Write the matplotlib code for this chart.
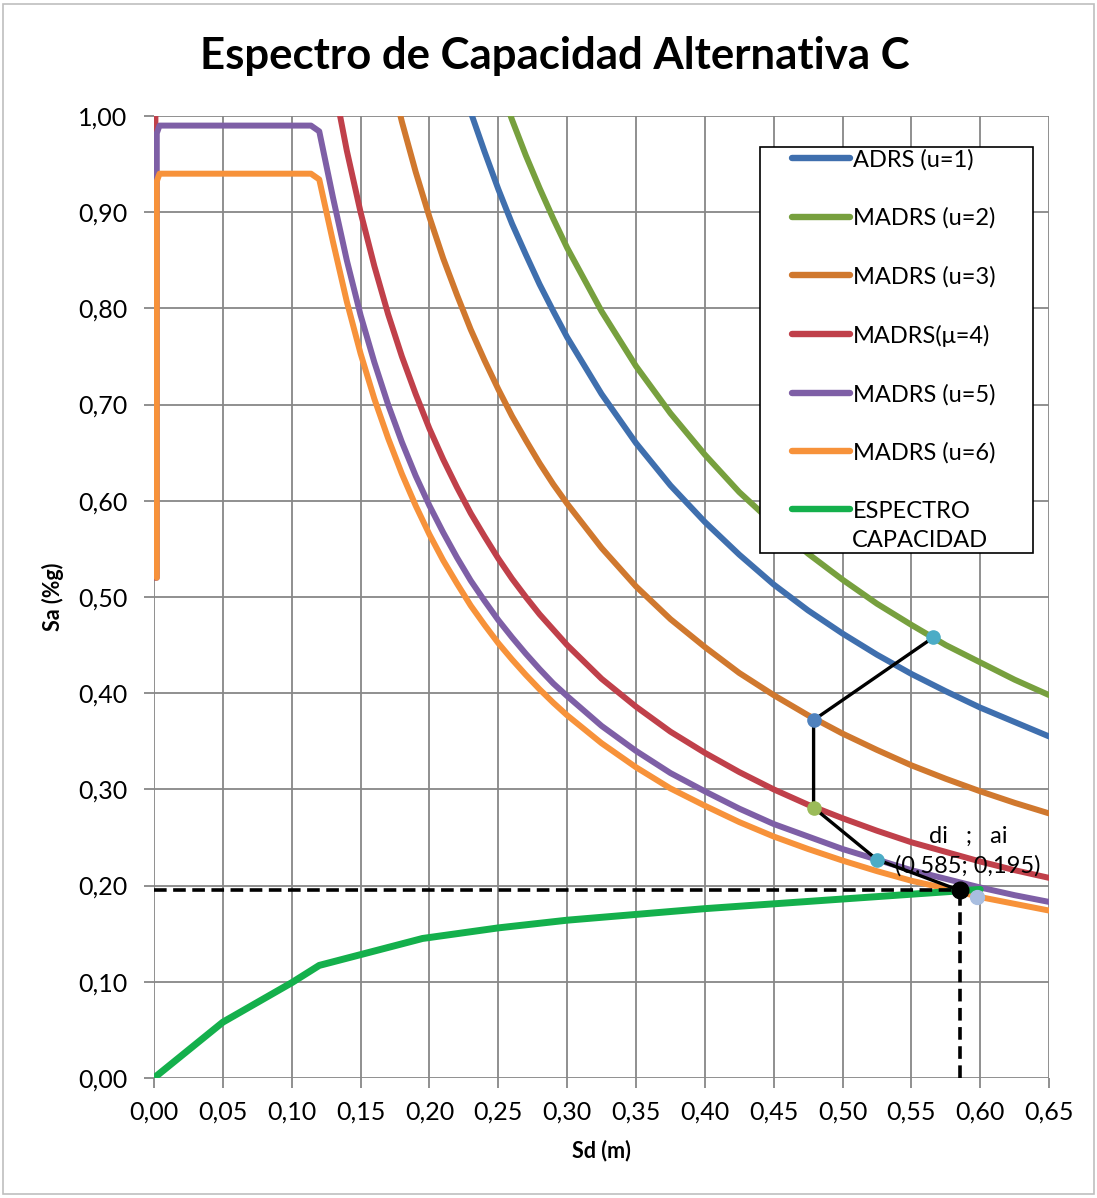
"""
Espectro de capacidad - alternativa C
"""

import matplotlib
matplotlib.use('Agg')
import matplotlib.pyplot as plt
from matplotlib.patches import Rectangle
from matplotlib.ticker import FuncFormatter, MultipleLocator

plt.rcParams['font.family'] = ['Lato', 'DejaVu Sans']

# curvas de demanda (Sd en m, Sa en %g)
sd_u1 = [0.22, 0.23, 0.24, 0.25, 0.26, 0.27, 0.28, 0.29, 0.30, 0.325, 0.35, 0.375, 0.40,
         0.425, 0.45, 0.475, 0.50, 0.525, 0.55, 0.575, 0.60, 0.625, 0.65]
sa_u1 = [1.050, 1.004, 0.963, 0.924, 0.888, 0.856, 0.825, 0.797, 0.770, 0.711, 0.660, 0.616, 0.578,
         0.544, 0.513, 0.486, 0.462, 0.440, 0.420, 0.402, 0.385, 0.370, 0.355]

sd_u2 = [0.25, 0.26, 0.27, 0.28, 0.29, 0.30, 0.325, 0.35, 0.375, 0.40,
         0.425, 0.45, 0.475, 0.50, 0.525, 0.55, 0.575, 0.60, 0.625, 0.65]
sa_u2 = [1.036, 0.996, 0.959, 0.925, 0.893, 0.863, 0.797, 0.740, 0.691, 0.648,
         0.609, 0.576, 0.545, 0.518, 0.493, 0.471, 0.450, 0.432, 0.414, 0.398]

sd_u3 = [0.17, 0.18, 0.19, 0.20, 0.21, 0.22, 0.23, 0.24, 0.25, 0.26, 0.27, 0.28, 0.29, 0.30,
         0.325, 0.35, 0.375, 0.40, 0.425, 0.45, 0.475, 0.50, 0.525, 0.55, 0.575, 0.60, 0.625, 0.65]
sa_u3 = [1.053, 0.994, 0.942, 0.895, 0.852, 0.814, 0.778, 0.746, 0.716, 0.688, 0.663, 0.639, 0.617, 0.597,
         0.551, 0.511, 0.477, 0.448, 0.421, 0.398, 0.377, 0.358, 0.341, 0.325, 0.311, 0.298, 0.286, 0.275]

sd_u4 = [0.001, 0.001, 0.12, 0.13, 0.14, 0.15, 0.16, 0.17, 0.18, 0.19, 0.20, 0.21, 0.22, 0.23, 0.24,
         0.25, 0.26, 0.27, 0.28, 0.29, 0.30, 0.325, 0.35, 0.375, 0.40, 0.425, 0.45, 0.475, 0.50,
         0.525, 0.55, 0.575, 0.60, 0.625, 0.65]
sa_u4 = [0.52, 1.125, 1.125, 1.038, 0.964, 0.900, 0.844, 0.794, 0.750, 0.711, 0.675, 0.643, 0.614, 0.587,
         0.563, 0.540, 0.519, 0.500, 0.482, 0.466, 0.450, 0.415, 0.386, 0.360, 0.338, 0.318, 0.300, 0.284,
         0.270, 0.257, 0.245, 0.235, 0.225, 0.216, 0.208]

sd_u5 = [0.002, 0.002, 0.004, 0.114, 0.12, 0.13, 0.14, 0.15, 0.16, 0.17, 0.18, 0.19, 0.20, 0.21, 0.22,
         0.23, 0.24, 0.25, 0.26, 0.27, 0.28, 0.29, 0.30, 0.325, 0.35, 0.375, 0.40, 0.425, 0.45, 0.475,
         0.50, 0.525, 0.55, 0.575, 0.60, 0.625, 0.65]
sa_u5 = [0.52, 0.982, 0.99, 0.99, 0.984, 0.915, 0.850, 0.793, 0.744, 0.700, 0.661, 0.626, 0.595, 0.567,
         0.541, 0.517, 0.496, 0.476, 0.458, 0.441, 0.425, 0.410, 0.397, 0.366, 0.340, 0.317, 0.298, 0.280,
         0.264, 0.251, 0.238, 0.227, 0.216, 0.207, 0.198, 0.190, 0.183]

sd_u6 = [0.002, 0.002, 0.004, 0.114, 0.12, 0.13, 0.14, 0.15, 0.16, 0.17, 0.18, 0.19, 0.20, 0.21, 0.22,
         0.23, 0.24, 0.25, 0.26, 0.27, 0.28, 0.29, 0.30, 0.325, 0.35, 0.375, 0.40, 0.425, 0.45, 0.475,
         0.50, 0.525, 0.55, 0.575, 0.60, 0.625, 0.65]
sa_u6 = [0.52, 0.932, 0.94, 0.94, 0.934, 0.869, 0.807, 0.753, 0.706, 0.665, 0.628, 0.595, 0.565, 0.538,
         0.514, 0.491, 0.471, 0.452, 0.435, 0.419, 0.404, 0.390, 0.377, 0.348, 0.323, 0.301, 0.283, 0.266,
         0.251, 0.238, 0.226, 0.215, 0.205, 0.197, 0.188, 0.181, 0.174]

# espectro de capacidad
sd_cap = [0.0, 0.05, 0.10, 0.12, 0.195, 0.25, 0.30, 0.35, 0.40, 0.45, 0.50, 0.55, 0.60]
sa_cap = [0.0, 0.058, 0.099, 0.117, 0.145, 0.156, 0.164, 0.170, 0.176, 0.181, 0.186, 0.191, 0.196]

# iteraciones
sd_iter = [0.566, 0.479, 0.479, 0.525, 0.585]
sa_iter = [0.458, 0.372, 0.281, 0.227, 0.195]
iter_colors = ['#4BACC6', '#4F81BD', '#9BBB59', '#4BACC6', 'black']

# punto de desempeño
sd_pd = 0.585
sa_pd = 0.195
sd_extra = 0.598
sa_extra = 0.188

fig = plt.figure(figsize=(10.97, 11.98), dpi=100)
fig.patches.append(Rectangle((0.003, 0.003), 0.994, 0.994, transform=fig.transFigure,
                             fill=False, edgecolor='#BFBFBF', linewidth=1.2))
ax = fig.add_axes([0.1404, 0.1002, 0.8159, 0.803])

lw = 4.3
ax.plot(sd_u1, sa_u1, color='#3F6FAE', lw=lw, label='ADRS (u=1)', solid_capstyle='round')
ax.plot(sd_u2, sa_u2, color='#77A03E', lw=lw, label='MADRS (u=2)', solid_capstyle='round')
ax.plot(sd_u3, sa_u3, color='#D0782E', lw=lw, label='MADRS (u=3)', solid_capstyle='round')
ax.plot(sd_u4, sa_u4, color='#C0404A', lw=lw, label='MADRS(\u03bc=4)', solid_capstyle='round')
ax.plot(sd_u5, sa_u5, color='#7E5FA6', lw=lw, label='MADRS (u=5)', solid_capstyle='round')
ax.plot(sd_u6, sa_u6, color='#F7923A', lw=lw, label='MADRS (u=6)', solid_capstyle='round')
ax.plot(sd_cap, sa_cap, color='#14B04C', lw=5.0, label='ESPECTRO', solid_capstyle='round')

# lineas punteadas del punto de desempeño
ax.plot([0, sd_pd], [sa_pd, sa_pd], color='black', lw=2.6, ls=(0, (3.5, 1.8)), zorder=5)
ax.plot([sd_pd, sd_pd], [0, sa_pd], color='black', lw=2.6, ls=(0, (3.5, 1.8)), zorder=5)

ax.plot(sd_iter, sa_iter, color='black', lw=2.4, zorder=6)
for x, y, c in zip(sd_iter[:-1], sa_iter[:-1], iter_colors[:-1]):
    ax.plot(x, y, 'o', color=c, ms=9.5, zorder=7)
ax.plot(sd_extra, sa_extra, 'o', color='#A9BEE0', ms=10, zorder=6)
ax.plot(sd_pd, sa_pd, 'o', color='black', ms=12, zorder=8)

ax.text(0.5911, 0.2516, 'di   ;   ai', fontsize=17, ha='center', va='center', zorder=9)
ax.text(0.5911, 0.2204, '(0,585; 0,195)', fontsize=17, ha='center', va='center', zorder=9)

ax.set_xlim(0, 0.65)
ax.set_ylim(0, 1.0)
ax.xaxis.set_major_locator(MultipleLocator(0.05))
ax.yaxis.set_major_locator(MultipleLocator(0.10))
ax.xaxis.set_major_formatter(FuncFormatter(lambda v, p: f'{v:.2f}'.replace('.', ',')))
ax.yaxis.set_major_formatter(FuncFormatter(lambda v, p: f'{v:.2f}'.replace('.', ',')))
ax.grid(True, color='#878787', lw=1.3)
ax.set_axisbelow(True)
for s in ax.spines.values():
    s.set_visible(False)
ax.tick_params(axis='both', length=7, width=1.3, color='#878787', labelsize=18)
ax.tick_params(axis='y', pad=12)
ax.tick_params(axis='x', pad=9)

ax.set_xlabel('Sd (m)', fontsize=15.5, fontweight='bold', labelpad=12)
ax.set_ylabel('Sa (%g)', fontsize=15.5, fontweight='bold', labelpad=10)
fig.text(0.506, 0.953, 'Espectro de Capacidad Alternativa C', fontsize=31.5, fontweight='bold',
         ha='center', va='center')

# leyenda con marco propio
ax.add_patch(Rectangle((0.677, 0.546), 0.305, 0.422, transform=ax.transAxes, fill=True,
                       facecolor='white', edgecolor='black', linewidth=1.2, zorder=10))
leg = ax.legend(loc='upper left', bbox_to_anchor=(0.713, 0.966), fontsize=17, frameon=False,
                handlelength=2.45, handletextpad=0.12, labelspacing=1.57, borderpad=0,
                borderaxespad=0)
leg.set_zorder(11)
for h in leg.get_lines():
    h.set_linewidth(4.6)
# segunda linea de la ultima etiqueta
ax.text(0.780, (1078 - 541) / 962, 'CAPACIDAD', transform=ax.transAxes, fontsize=17,
        ha='left', va='center', zorder=12)

fig.savefig('out.png', dpi=100)
